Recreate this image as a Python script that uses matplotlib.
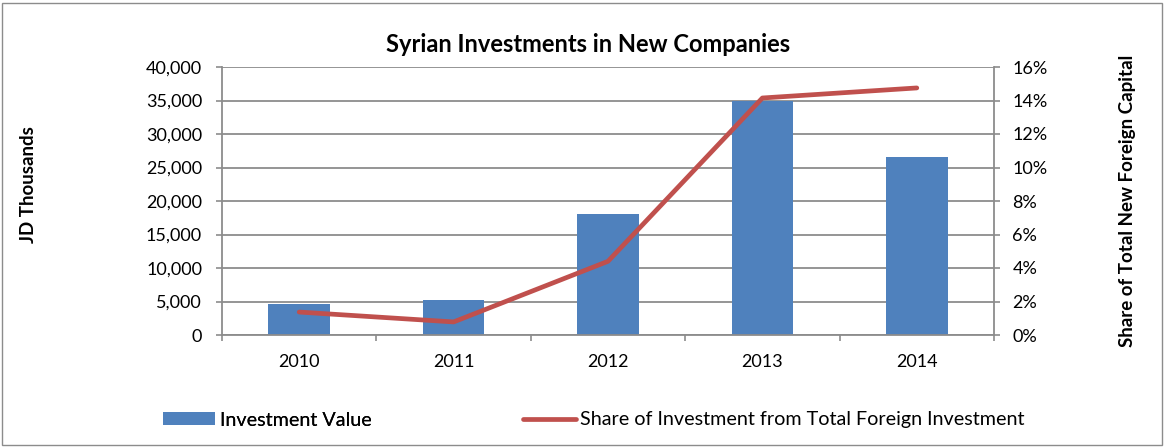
import matplotlib
matplotlib.use("Agg")
import matplotlib.pyplot as plt
from matplotlib.patches import Rectangle
from matplotlib.ticker import FuncFormatter, MultipleLocator, FixedLocator
import numpy as np

years = ["2010", "2011", "2012", "2013", "2014"]
investment_value = [4700, 5200, 18000, 35000, 26600]          # JD thousands
foreign_share = [1.37, 0.78, 4.4, 14.15, 14.75]                 # percent

bar_color = "#4F81BD"
line_color = "#C0504D"
grid_color = "#8C8C8C"

plt.rcParams["font.family"] = ["Lato", "DejaVu Sans"]

fig = plt.figure(figsize=(11.65, 4.47), dpi=100)
W, H = 1165, 447
ax = fig.add_axes([222 / W, 1 - 335 / H, (994 - 222) / W, (335 - 67) / H])

x = np.arange(len(years))
bars = ax.bar(x, investment_value, width=0.4, color=bar_color, zorder=2,
              label="Investment Value")
ax.set_xlim(-0.5, len(years) - 0.5)
ax.set_ylim(0, 40000)
ax.yaxis.set_major_locator(MultipleLocator(5000))
ax.yaxis.set_major_formatter(FuncFormatter(lambda v, p: f"{int(v):,}"))
ax.set_xticks(x)
ax.set_xticklabels(years)
ax.xaxis.set_minor_locator(FixedLocator(np.arange(-0.5, len(years), 1.0)))
ax.tick_params(axis="x", which="major", length=0, pad=14, labelsize=13)
ax.tick_params(axis="x", which="minor", length=4, width=1.2, color=grid_color,
               direction="out")
ax.tick_params(axis="y", length=4.3, width=1.2, color=grid_color, labelsize=13,
               pad=10)
ax.grid(axis="y", color=grid_color, linewidth=1.3, zorder=0)
for side in ("top", "right"):
    ax.spines[side].set_visible(False)
for side in ("left", "bottom"):
    ax.spines[side].set_color(grid_color)
    ax.spines[side].set_linewidth(1.3)
ax.set_axisbelow(True)

ax2 = ax.twinx()
line, = ax2.plot(x, foreign_share, color=line_color, linewidth=3.4,
                 solid_capstyle="round", solid_joinstyle="round", zorder=3,
                 label="Share of Investment from Total Foreign Investment")
ax2.set_ylim(0, 16)
ax2.yaxis.set_major_locator(MultipleLocator(2))
ax2.yaxis.set_major_formatter(FuncFormatter(lambda v, p: f"{int(v)}%"))
ax2.tick_params(axis="y", length=4.3, width=1.2, color=grid_color, labelsize=13,
                pad=9)
for side in ("top", "left", "bottom"):
    ax2.spines[side].set_visible(False)
ax2.spines["right"].set_color(grid_color)
ax2.spines["right"].set_linewidth(1.3)

fig.text(588 / W, 1 - 44 / H, "Syrian Investments in New Companies",
         ha="center", va="center", fontsize=17, fontweight="bold")
fig.text(29 / W, 1 - 185 / H, "JD Thousands", rotation=90,
         ha="center", va="center", fontsize=13.5, fontweight="bold")
fig.text(1128 / W, 1 - 201 / H, "Share of Total New Foreign Capital", rotation=90,
         ha="center", va="center", fontsize=13.5, fontweight="bold")

legend_fs = 14.2
leg1 = fig.legend([bars], ["Investment Value"], loc="center left",
                  bbox_to_anchor=(163 / W, 1 - 420 / H), frameon=False,
                  fontsize=legend_fs, borderpad=0, borderaxespad=0,
                  handlelength=2.64, handleheight=0.61, handletextpad=0.26)
fig.add_artist(leg1)
fig.legend([line], [line.get_label()], loc="center left",
           bbox_to_anchor=(523 / W, 1 - 420 / H), frameon=False,
           fontsize=legend_fs, borderpad=0, borderaxespad=0,
           handlelength=2.71, handletextpad=0.2)

fig.patches.append(Rectangle((2 / W, 2 / H), (W - 5) / W, (H - 5) / H,
                             transform=fig.transFigure, fill=False,
                             edgecolor="#8C8C8C", linewidth=1.0))

fig.savefig("out.png", dpi=100)
